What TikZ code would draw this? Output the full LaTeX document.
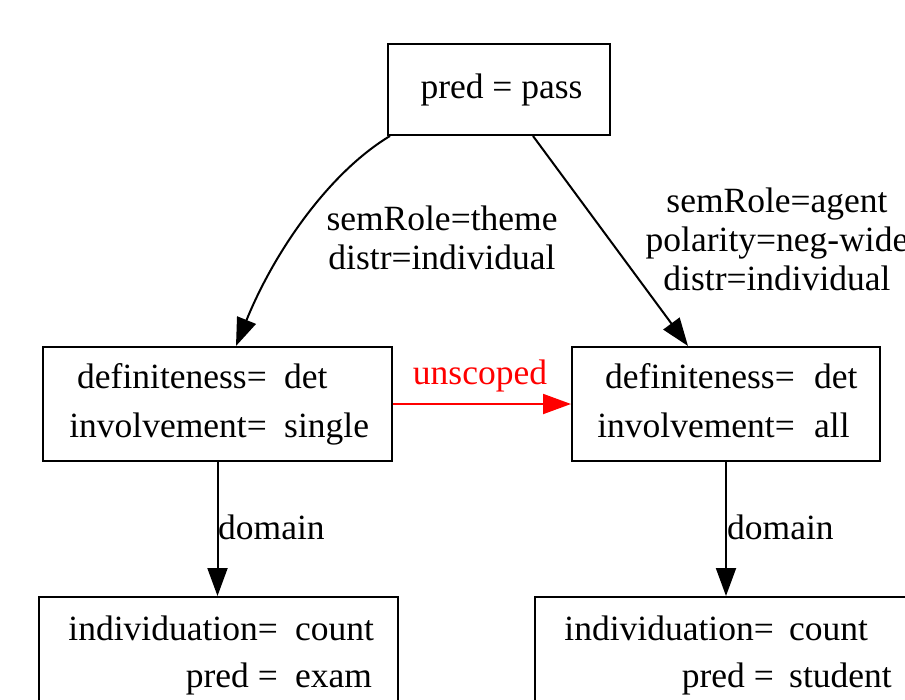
\documentclass[tikz,border=0pt]{standalone}
\usepackage{fontspec}
\setmainfont{Liberation Serif}
\usetikzlibrary{arrows.meta,calc}
\begin{document}
\begin{tikzpicture}[x=1pt,y=-1pt,
  box/.style={draw, line width=2pt, rectangle, inner sep=0pt},
  txt/.style={inner sep=0pt, font=\fontsize{35.5}{39}\selectfont},
  lab/.style={txt, align=center},
  edge/.style={line width=2pt, -{Triangle[length=28pt,width=20pt]}},
]
\useasboundingbox (0,0) rectangle (905,699);
\clip (0,0) rectangle (905,699);
% boxes
\node[box, minimum width=222pt, minimum height=91pt] (top) at (499,89.5) {};
\node[box, minimum width=349pt, minimum height=114pt] (lm) at (217.5,404) {};
\node[box, minimum width=308pt, minimum height=114pt] (rm) at (726,404) {};
\node[box, minimum width=359pt, minimum height=114pt] (bl) at (218.5,654) {};
\node[box, minimum width=384pt, minimum height=114pt] (br) at (727,654) {};
% texts
\node[txt, anchor=base] (t1) at (501.5,98) {pred = pass};
\node[txt, anchor=base east] (lm1a) at (267,388) {definiteness=};
\node[txt, anchor=base west] (lm1b) at (284,388) {det};
\node[txt, anchor=base east] (lm2a) at (267,437) {involvement=};
\node[txt, anchor=base west] (lm2b) at (284,437) {single};
\node[txt, anchor=base east] (rm1a) at (795,388) {definiteness=};
\node[txt, anchor=base west] (rm1b) at (814,388) {det};
\node[txt, anchor=base east] (rm2a) at (795,437) {involvement=};
\node[txt, anchor=base west] (rm2b) at (814,437) {all};
\node[txt, anchor=base east] (bl1a) at (278,640) {individuation=};
\node[txt, anchor=base west] (bl1b) at (295,640) {count};
\node[txt, anchor=base east] (bl2a) at (278,687) {pred =};
\node[txt, anchor=base west] (bl2b) at (295,687) {exam};
\node[txt, anchor=base east] (br1a) at (774,640) {individuation=};
\node[txt, anchor=base west] (br1b) at (789,640) {count};
\node[txt, anchor=base east] (br2a) at (774,687) {pred =};
\node[txt, anchor=base west] (br2b) at (789,687) {student};
% edges
\draw[edge] ([xshift=-109pt]top.south) .. controls (330,172) and (275,250) .. ([xshift=18.5pt]lm.north);
\draw[edge] ([xshift=34pt]top.south) -- ([xshift=-38pt]rm.north);
\draw[edge, red] (lm.east) -- (rm.west);
\draw[edge] (lm.south) -- (lm.south |- bl.north);
\draw[edge] (rm.south) -- (rm.south |- br.north);
% labels
\node[lab] (l1) at (442,238) {semRole=theme\\distr=individual};
\node[lab] (l2) at (777,239) {semRole=agent\\polarity=neg-wide\\distr=individual};
\node[txt, text=red] (l3) at (480,376) {unscoped};
\node[txt, anchor=west] (l4) at (218,527) {domain};
\node[txt, anchor=west] (l5) at (727,527) {domain};
\end{tikzpicture}
\end{document}
